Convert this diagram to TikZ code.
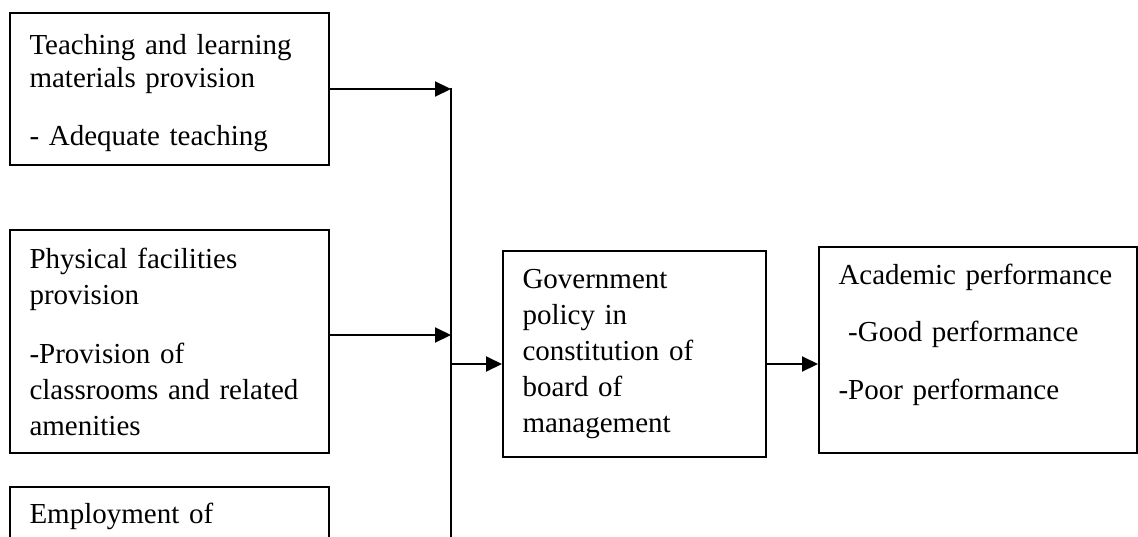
\documentclass[tikz,border=0pt]{standalone}
\usepackage{fontspec}
\setmainfont{Liberation Serif}
\usetikzlibrary{arrows.meta}
\tikzset{
  factor/.style={draw, line width=1pt, rectangle, anchor=north west,
    inner xsep=9.75pt, inner ysep=0pt, align=left},
  link/.style={line width=1pt, -{Triangle[length=8pt,width=7.5pt]}}
}
\begin{document}
\begin{tikzpicture}[x=0.5pt,y=-0.5pt]%framework
\useasboundingbox (0,0) rectangle (1138,536);
\node[factor, minimum width=159.5pt, minimum height=76pt, text width=140pt,
  text depth=45pt, font=\fontsize{14.5}{16.5}\selectfont] (tlm) at (9,12)
  {Teaching and learning\\ materials provision\\[12.5pt] - Adequate teaching};
\node[factor, minimum width=159.5pt, minimum height=111.5pt, text width=140pt,
  font=\fontsize{14.5}{18}\selectfont] (phys) at (9,229)
  {Physical facilities\\ provision\\[11.5pt] -Provision of\\ classrooms and related\\ amenities};
\node[factor, minimum width=159.5pt, minimum height=60pt, text width=140pt,
  text depth=34pt, font=\fontsize{14.5}{18}\selectfont] (staff) at (9,486)
  {Employment of};
\node[factor, minimum width=131.5pt, minimum height=103pt, text width=112pt,
  font=\fontsize{14.5}{18}\selectfont] (gov) at (502,250)
  {Government\\ policy in\\ constitution of\\ board of\\ management};
\node[factor, minimum width=159pt, minimum height=103pt, text width=139.5pt,
  text depth=76pt, font=\fontsize{14.5}{28.75}\selectfont] (acad) at (818,246)
  {Academic performance\\ \ -Good performance\\ -Poor performance};
%\node (staff) ...
\coordinate (bustop) at (451,88);
\coordinate (busend) at (451,540);
\coordinate (join) at (451,364);
\coordinate (physout) at ([yshift=3.25pt]phys.east);
\draw[line width=1pt] (bustop) -- (busend);
\draw[link] (tlm.east) -- (tlm.east -| bustop);
\draw[link] (physout) -- (physout -| bustop);
\draw[link] (join) -- (join -| gov.west);
\draw[link] (join -| gov.east) -- (join -| acad.west);
\end{tikzpicture}
\end{document}
